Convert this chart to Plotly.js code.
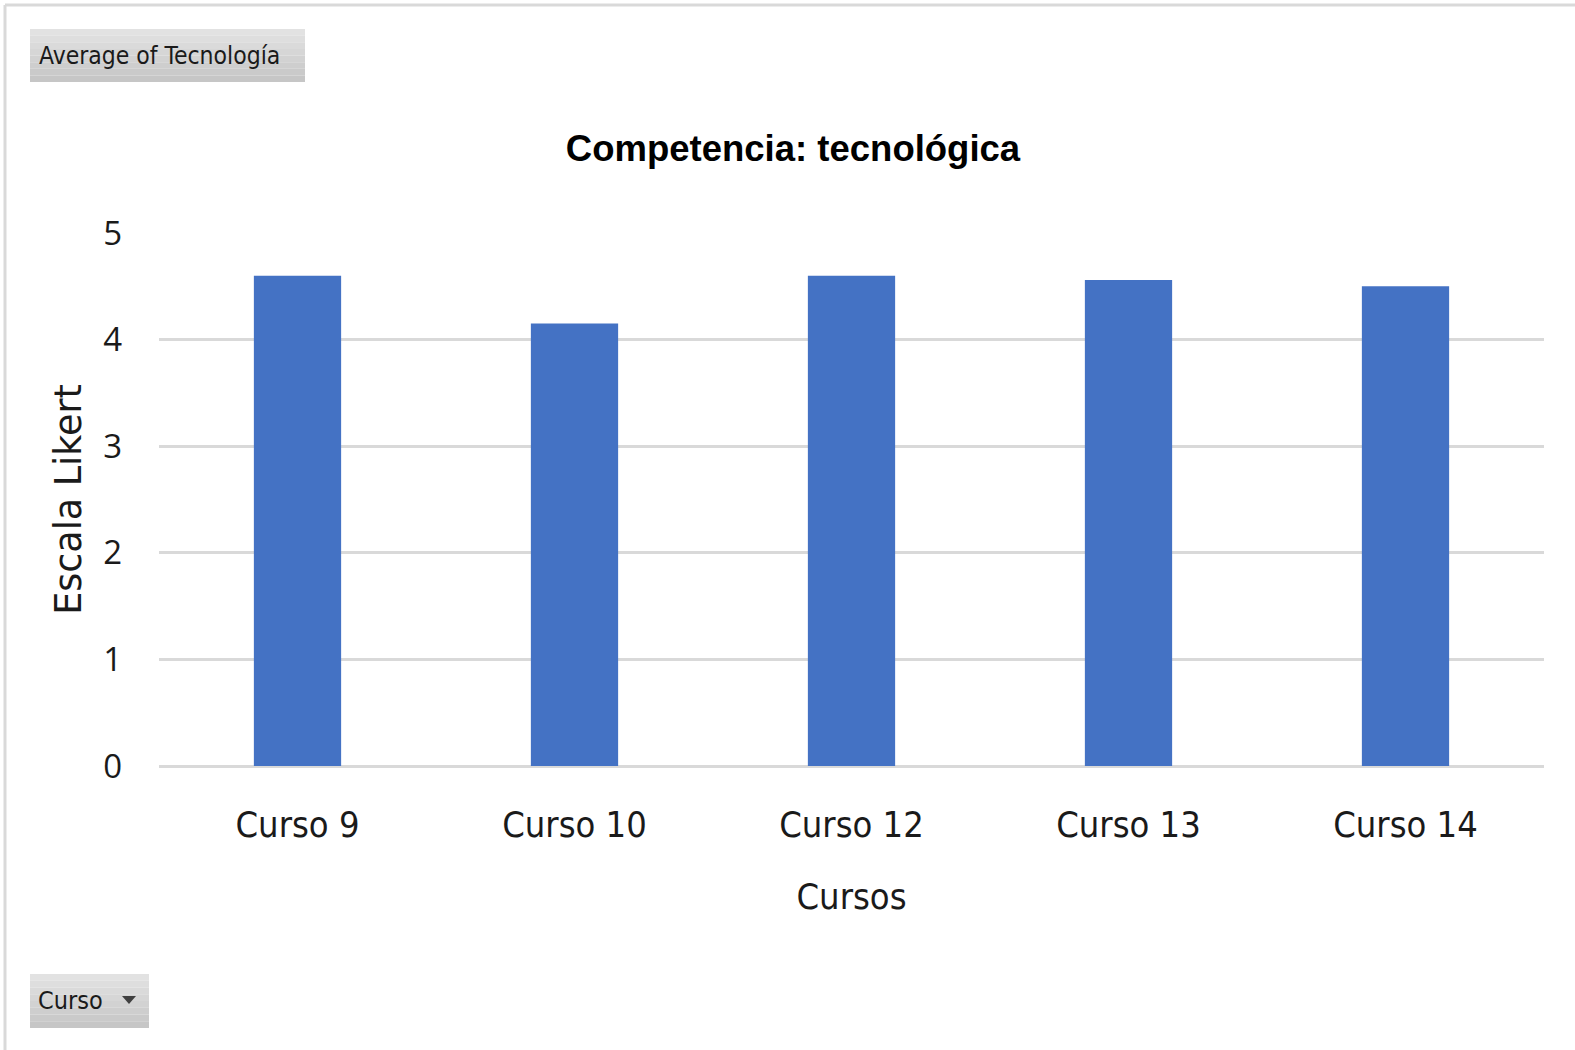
<!DOCTYPE html>
<html>
<head>
<meta charset="utf-8">
<script src="https://cdn.plot.ly/plotly-3.0.1.min.js"></script>
<style>
  html, body { margin: 0; padding: 0; background: #fff; }
  #chart { width: 1575px; height: 1050px; }
</style>
</head>
<body>
<div id="chart"></div>
<script>
// data
const cursos = ['Curso 9', 'Curso 10', 'Curso 12', 'Curso 13', 'Curso 14'];
const promedios = [4.6, 4.15, 4.6, 4.56, 4.5];
const yTicks = [0, 1, 2, 3, 4, 5];

const W = 1575, H = 1050;
const M = { l: 159, r: 31, t: 233, b: 284 };
const plotW = W - M.l - M.r, plotH = H - M.t - M.b;

// pixel -> paper fraction helpers
const px = x => (x - M.l) / plotW;
const py = y => (H - M.b - y) / plotH;

const COND = 'DejaVu Sans Condensed, Liberation Sans, sans-serif';
const SANS = 'Liberation Sans, Arial, sans-serif';
const GRID = '#d9d9d9';

// grey excel "field button" with a small vertical gradient
function fieldButton(x0, y0, x1, y1) {
  const bands = [];
  const n = 8;
  for (let i = 0; i < n; i++) {
    const c = Math.round(0xe2 - (0xe2 - 0xc6) * i / (n - 1));
    bands.push({
      type: 'rect', xref: 'paper', yref: 'paper', layer: 'below',
      x0: px(x0), x1: px(x1),
      y0: py(y0 + (y1 - y0) * (i + 1) / n), y1: py(y0 + (y1 - y0) * i / n),
      line: { width: 0 },
      fillcolor: `rgb(${c},${c},${c})`,
    });
  }
  return bands;
}

const shapes = [
  // outer chart frame (left + top)
  { type: 'line', xref: 'paper', yref: 'paper', x0: px(5), x1: px(5), y0: py(5), y1: py(H),
    line: { color: GRID, width: 3 } },
  { type: 'line', xref: 'paper', yref: 'paper', x0: px(5), x1: px(W), y0: py(5), y1: py(5),
    line: { color: GRID, width: 3 } },
  ...fieldButton(30, 29, 305, 82),
  ...fieldButton(30, 974, 149, 1028),
  // dropdown arrow
  { type: 'path', xref: 'paper', yref: 'paper',
    path: `M ${px(122)} ${py(996)} L ${px(136)} ${py(996)} L ${px(129)} ${py(1004)} Z`,
    fillcolor: '#404040', line: { width: 0 } },
];

const annotations = [
  { text: 'Average of Tecnología', xref: 'paper', yref: 'paper',
    x: px(37), y: py(56), xanchor: 'left', yanchor: 'middle', showarrow: false,
    font: { family: COND, size: 24.5, color: '#1a1a1a' } },
  { text: 'Curso', xref: 'paper', yref: 'paper',
    x: px(36), y: py(1000), xanchor: 'left', yanchor: 'middle', showarrow: false,
    font: { family: COND, size: 25, color: '#1a1a1a' } },
];

Plotly.newPlot('chart', [{
  type: 'bar',
  x: cursos,
  y: promedios,
  marker: { color: '#4472c4' },
  hoverinfo: 'x+y',
}], {
  width: W,
  height: H,
  margin: M,
  paper_bgcolor: '#ffffff',
  plot_bgcolor: '#ffffff',
  bargap: 0.685,
  showlegend: false,
  title: {
    text: '<b>Competencia: tecnológica</b>',
    x: 793 / W, xanchor: 'center',
    y: 1 - 148 / H, yanchor: 'middle',
    font: { family: SANS, size: 36.5, color: '#000' },
  },
  xaxis: {
    type: 'category',
    showgrid: false,
    showline: false,
    ticks: '',
    ticklabelstandoff: 34,
    tickfont: { family: COND, size: 36, color: '#1a1a1a' },
    title: { text: 'Cursos', standoff: 39, font: { family: COND, size: 36, color: '#1a1a1a' } },
  },
  yaxis: {
    range: [0, 5],
    tickvals: yTicks,
    showgrid: true,
    gridcolor: GRID,
    gridwidth: 3,
    zeroline: true,
    zerolinecolor: GRID,
    zerolinewidth: 3,
    ticks: '',
    ticklabelstandoff: 36,
    tickfont: { family: 'Open Sans, sans-serif', size: 33, color: '#1a1a1a' },
    title: { text: 'Escala Likert', standoff: 10, font: { family: 'DejaVu Sans, sans-serif', size: 36.5, color: '#1a1a1a' } },
  },
  shapes: shapes,
  annotations: annotations,
}, { displayModeBar: false, staticPlot: true });
</script>
</body>
</html>
